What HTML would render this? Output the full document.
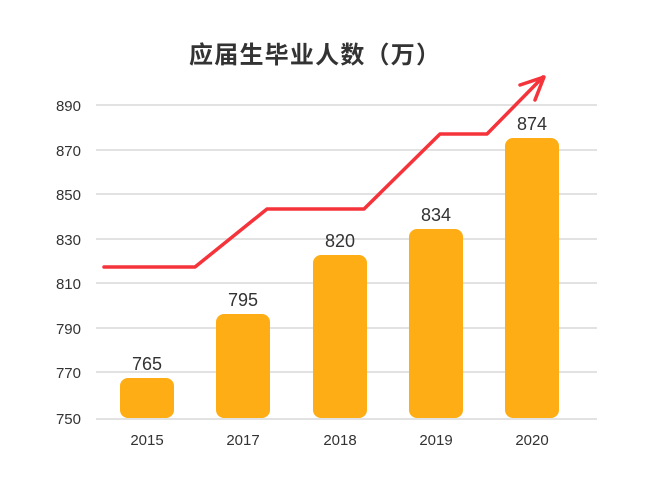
<!DOCTYPE html>
<html><head><meta charset="utf-8"><style>
html,body{margin:0;padding:0;background:#fff;}
svg{display:block;}
text{font-family:"Liberation Sans","Noto Sans CJK SC",sans-serif;}
</style></head><body>
<svg width="661" height="495" viewBox="0 0 661 495" xmlns="http://www.w3.org/2000/svg">
<rect width="661" height="495" fill="#fff"/>
<text x="189" y="63" font-size="24" font-weight="bold" fill="#333" textLength="251" lengthAdjust="spacing" font-family="'Noto Sans CJK SC',sans-serif">应届生毕业人数（万）</text>
<g stroke="#e2e2e2" stroke-width="2">
<line x1="96" y1="105" x2="597" y2="105"/>
<line x1="96" y1="150" x2="597" y2="150"/>
<line x1="96" y1="194" x2="597" y2="194"/>
<line x1="96" y1="239" x2="597" y2="239"/>
<line x1="96" y1="283" x2="597" y2="283"/>
<line x1="96" y1="328" x2="597" y2="328"/>
<line x1="96" y1="372" x2="597" y2="372"/>
<line x1="96" y1="419" x2="597" y2="419"/>
</g>
<g font-size="15" fill="#333" text-anchor="end">
<text x="81" y="111">890</text>
<text x="81" y="156">870</text>
<text x="81" y="200">850</text>
<text x="81" y="245">830</text>
<text x="81" y="289">810</text>
<text x="81" y="334">790</text>
<text x="81" y="378">770</text>
<text x="81" y="424">750</text>
</g>
<g fill="#fead14">
<rect x="120" y="378" width="54" height="40" rx="8"/>
<rect x="216" y="314" width="54" height="104" rx="8"/>
<rect x="313" y="255" width="54" height="163" rx="8"/>
<rect x="409" y="229" width="54" height="189" rx="8"/>
<rect x="505" y="138" width="54" height="280" rx="8"/>
</g>
<g font-size="18" fill="#333" text-anchor="middle">
<text x="147" y="370">765</text>
<text x="243" y="306">795</text>
<text x="340" y="247">820</text>
<text x="436" y="221">834</text>
<text x="532" y="130">874</text>
</g>
<g font-size="15" fill="#333" text-anchor="middle">
<text x="147" y="445">2015</text>
<text x="243" y="445">2017</text>
<text x="340" y="445">2018</text>
<text x="436" y="445">2019</text>
<text x="532" y="445">2020</text>
</g>
<g stroke="#f5333a" stroke-width="3.5" fill="none" stroke-linecap="round" stroke-linejoin="round">
<polyline points="104,267 195,267 267,209 364,209 440,134 487,134 543,77"/>
<polyline points="520,85 544,77 535,100"/>
</g>
</svg>
</body></html>
